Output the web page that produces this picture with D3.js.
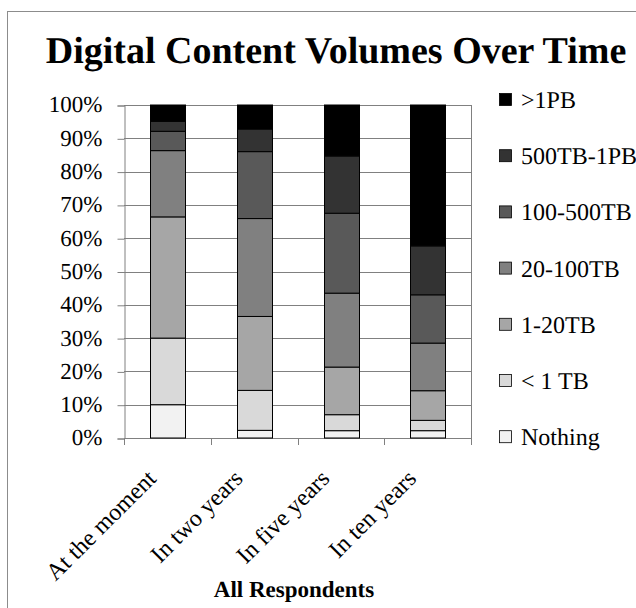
<!DOCTYPE html>
<html lang="en">
<head>
    <meta charset="UTF-8">
    <script src="https://cdn.jsdelivr.net/npm/d3@7"></script>
    <title>Digital Content Volumes Over Time</title>
</head>
<body style="margin:0; background:white;">
    <div id="chart"></div>
    <script>
        /*------------------- data --------------------*/
        const categories = ["At the moment", "In two years", "In five years", "In ten years"];
        // series, bottom to top of the stack
        const seriesNames = ["Nothing", "< 1 TB", "1-20TB", "20-100TB", "100-500TB", "500TB-1PB", ">1PB"];
        const nothing   = [10.0, 2.3, 2.2, 2.2];
        const lt1TB     = [20.0, 12.0, 4.8, 3.1];
        const tb1_20    = [36.4, 22.2, 14.3, 8.9];
        const tb20_100  = [19.9, 29.4, 22.2, 14.3];
        const tb100_500 = [5.8, 20.1, 24.0, 14.5];
        const tb500_1pb = [3.0, 6.8, 17.2, 14.7];
        const gt1PB     = [4.9, 7.2, 15.3, 42.3];
        const seriesColors = ["#f2f2f2", "#d9d9d9", "#a6a6a6", "#808080", "#595959", "#333333", "#000000"];
        const yTicks = [0, 10, 20, 30, 40, 50, 60, 70, 80, 90, 100];

        const seriesValues = [nothing, lt1TB, tb1_20, tb20_100, tb100_500, tb500_1pb, gt1PB];
        const rows = categories.map((c, i) => {
            const r = { category: c };
            seriesNames.forEach((s, j) => r[s] = seriesValues[j][i]);
            return r;
        });

        /*------------------- layout --------------------*/
        const FONT = "Liberation Serif";
        const width = 636, height = 608;
        const plot = { left: 124, right: 471, top: 105, bottom: 438 };

        const svg = d3.select("#chart").append("svg")
            .attr("width", width)
            .attr("height", height)
            .attr("font-family", FONT)
            .attr("text-rendering", "geometricPrecision")
            .style("display", "block");

        // outer chart frame
        svg.append("rect")
            .attr("x", 7.5).attr("y", 11.5)
            .attr("width", 700).attr("height", 700)
            .attr("fill", "white")
            .attr("stroke", "#8c8c8c")
            .attr("stroke-width", 1);

        const x = d3.scaleBand()
            .domain(categories)
            .range([plot.left, plot.right])
            .paddingInner(0.6)
            .paddingOuter(0.3);

        const y = d3.scaleLinear()
            .domain([0, 100])
            .range([plot.bottom, plot.top]);

        // gridlines
        svg.append("g")
            .selectAll("line")
            .data(yTicks)
            .enter()
            .append("line")
            .attr("x1", plot.left).attr("x2", plot.right)
            .attr("y1", d => Math.round(y(d)) + 0.5)
            .attr("y2", d => Math.round(y(d)) + 0.5)
            .attr("stroke", "#808080")
            .attr("stroke-width", 1);

        // right border of plot area
        svg.append("line")
            .attr("x1", plot.right + 0.5).attr("x2", plot.right + 0.5)
            .attr("y1", plot.top).attr("y2", plot.bottom)
            .attr("stroke", "#808080");

        // y axis
        const yAxis = svg.append("g")
            .attr("transform", `translate(${plot.left + 0.5},0.5)`)
            .call(d3.axisLeft(y).tickValues(yTicks).tickFormat(d => d + "%").tickSize(7).tickPadding(15));
        yAxis.attr("font-family", FONT).attr("font-size", 23);
        yAxis.select(".domain").attr("stroke", "#808080");
        yAxis.selectAll(".tick line").attr("stroke", "#808080");
        yAxis.selectAll("text").attr("fill", "black").attr("dy", "0.28em");

        // x axis (ticks between categories)
        const boundaries = d3.range(categories.length + 1).map(i => plot.left + i * x.step());
        svg.append("line")
            .attr("x1", plot.left).attr("x2", plot.right)
            .attr("y1", plot.bottom + 0.5).attr("y2", plot.bottom + 0.5)
            .attr("stroke", "#808080");
        svg.append("g")
            .selectAll("line")
            .data(boundaries)
            .enter()
            .append("line")
            .attr("x1", d => Math.round(d) + 0.5).attr("x2", d => Math.round(d) + 0.5)
            .attr("y1", plot.bottom).attr("y2", plot.bottom + 7)
            .attr("stroke", "#808080");

        svg.append("g")
            .attr("font-size", 24)
            .selectAll("text")
            .data(categories)
            .enter()
            .append("text")
            .attr("transform", d => `translate(${x(d) + x.bandwidth() / 2 - 10},${plot.bottom + 42}) rotate(-45)`)
            .attr("text-anchor", "end")
            .text(d => d);

        // stacked bars
        const stacked = d3.stack().keys(seriesNames)(rows);
        svg.append("g")
            .selectAll("g")
            .data(stacked)
            .enter()
            .append("g")
            .attr("fill", (d, i) => seriesColors[i])
            .selectAll("rect")
            .data(d => d)
            .enter()
            .append("rect")
            .attr("x", d => Math.round(x(d.data.category)) + 0.5)
            .attr("y", d => y(d[1]))
            .attr("width", Math.round(x.bandwidth()))
            .attr("height", d => y(d[0]) - y(d[1]))
            .attr("stroke", "black")
            .attr("stroke-width", 1);

        // title
        svg.append("text")
            .attr("x", 336)
            .attr("y", 63)
            .attr("text-anchor", "middle")
            .attr("font-size", 38)
            .attr("font-weight", "bold")
            .text("Digital Content Volumes Over Time");

        // x axis title
        svg.append("text")
            .attr("x", 294)
            .attr("y", 597)
            .attr("text-anchor", "middle")
            .attr("font-size", 23)
            .attr("font-weight", "bold")
            .text("All Respondents");

        // legend, top entry is >1PB
        const legendItems = seriesNames.map((s, i) => ({ name: s, color: seriesColors[i] })).reverse();
        const legend = svg.append("g")
            .attr("font-size", 24)
            .selectAll("g")
            .data(legendItems)
            .enter()
            .append("g")
            .attr("transform", (d, i) => `translate(499,${99 + i * 56.2})`);
        legend.append("rect")
            .attr("x", 0.5).attr("y", -5.5)
            .attr("width", 12).attr("height", 12)
            .attr("fill", d => d.color)
            .attr("stroke", "black")
            .attr("stroke-width", 0.8);
        legend.append("text")
            .attr("x", 22)
            .attr("y", 9)
            .text(d => d.name);
    </script>
</body>
</html>
